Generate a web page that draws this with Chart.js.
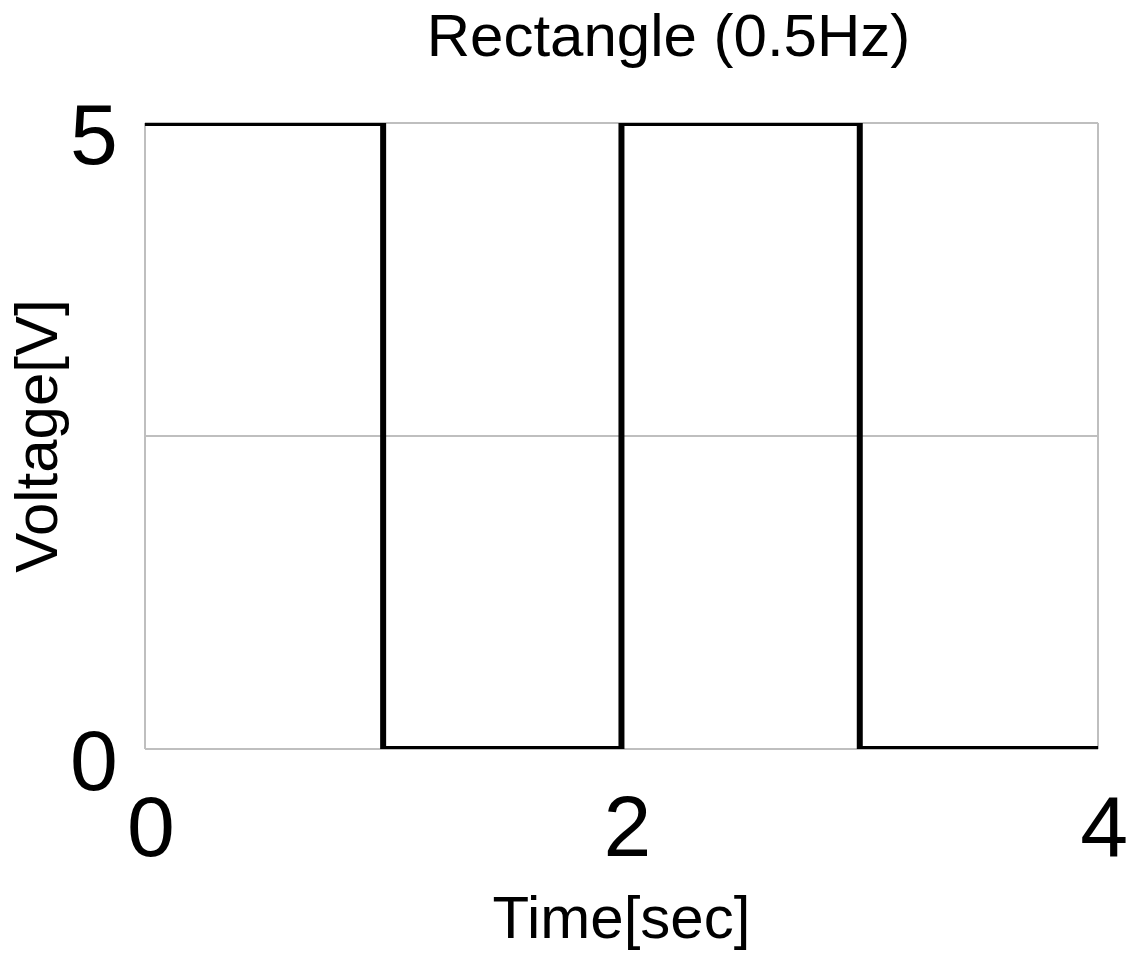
<!DOCTYPE html>
<html lang="en">
<head>
    <meta charset="UTF-8">
    <title>Rectangle (0.5Hz)</title>
    <script src="https://cdn.jsdelivr.net/npm/chart.js"></script>
    <style>
        body {
            margin: 0;
            padding: 0;
            background: #ffffff;
        }
        #wrap {
            width: 1137px;
            height: 969px;
        }
    </style>
</head>
<body>
    <div id="wrap">
        <canvas id="waveChart" width="1137" height="969"></canvas>
    </div>

    <script>
        // square wave samples (stepped line, value holds until next point)
        const times = [0, 1, 2, 3, 4];
        const volts = [5, 0, 5, 0, 0];

        // axis ticks
        const xTicks = [0, 2, 4];
        const yTicks = [0, 2.5, 5];
        const yTickLabels = ['0', '', '5'];

        const gridColor = '#bfbfbf';
        const fontName = "'Liberation Sans', Arial, sans-serif";

        Chart.defaults.color = '#000000';
        Chart.defaults.font.family = fontName;

        const points = times.map((t, i) => ({ x: t, y: volts[i] }));

        // the original title sits a bit right of centre, so narrow its box from the left
        const titleShift = {
            id: 'titleShift',
            afterLayout(chart) {
                if (chart.titleBlock) {
                    chart.titleBlock.left = 200;
                }
            }
        };

        new Chart(document.getElementById('waveChart'), {
            type: 'line',
            data: {
                datasets: [{
                    data: points,
                    stepped: 'before',
                    borderColor: '#000000',
                    borderWidth: 6,
                    borderJoinStyle: 'miter',
                    pointRadius: 0,
                    fill: false
                }]
            },
            options: {
                responsive: false,
                animation: false,
                devicePixelRatio: 1,
                layout: {
                    padding: { top: 0, right: 0, bottom: 0, left: 0 }
                },
                plugins: {
                    legend: { display: false },
                    tooltip: { enabled: false },
                    title: {
                        display: true,
                        text: 'Rectangle (0.5Hz)',
                        color: '#000000',
                        font: { size: 60, weight: 'normal', lineHeight: 1 },
                        padding: { top: 9, bottom: 54 }
                    }
                },
                scales: {
                    x: {
                        type: 'linear',
                        min: 0,
                        max: 4,
                        afterBuildTicks: (scale) => {
                            scale.ticks = xTicks.map(v => ({ value: v }));
                        },
                        border: { display: false },
                        grid: {
                            color: gridColor,
                            lineWidth: 2,
                            drawTicks: false
                        },
                        ticks: {
                            // small padding keeps the right margin tight; tall line height drops the labels
                            padding: 15,
                            labelOffset: 6,
                            maxRotation: 0,
                            autoSkip: false,
                            font: { size: 86, lineHeight: 1.58 },
                            callback: (v) => String(v)
                        },
                        title: {
                            display: true,
                            text: 'Time[sec]',
                            font: { size: 60, lineHeight: 1 },
                            padding: { top: -24, bottom: 18 }
                        }
                    },
                    y: {
                        min: 0,
                        max: 5,
                        afterBuildTicks: (scale) => {
                            scale.ticks = yTicks.map(v => ({ value: v }));
                        },
                        border: { display: false },
                        grid: {
                            color: gridColor,
                            lineWidth: 2,
                            drawTicks: false
                        },
                        ticks: {
                            padding: 27,
                            labelOffset: 17,
                            autoSkip: false,
                            font: { size: 86, lineHeight: 1 },
                            callback: (v) => {
                                const i = yTicks.indexOf(v);
                                return i >= 0 ? yTickLabels[i] : '';
                            }
                        },
                        title: {
                            display: true,
                            text: 'Voltage[V]',
                            font: { size: 60, lineHeight: 1 },
                            padding: { top: 10, bottom: -27 }
                        }
                    }
                }
            },
            plugins: [titleShift]
        });
    </script>
</body>
</html>
